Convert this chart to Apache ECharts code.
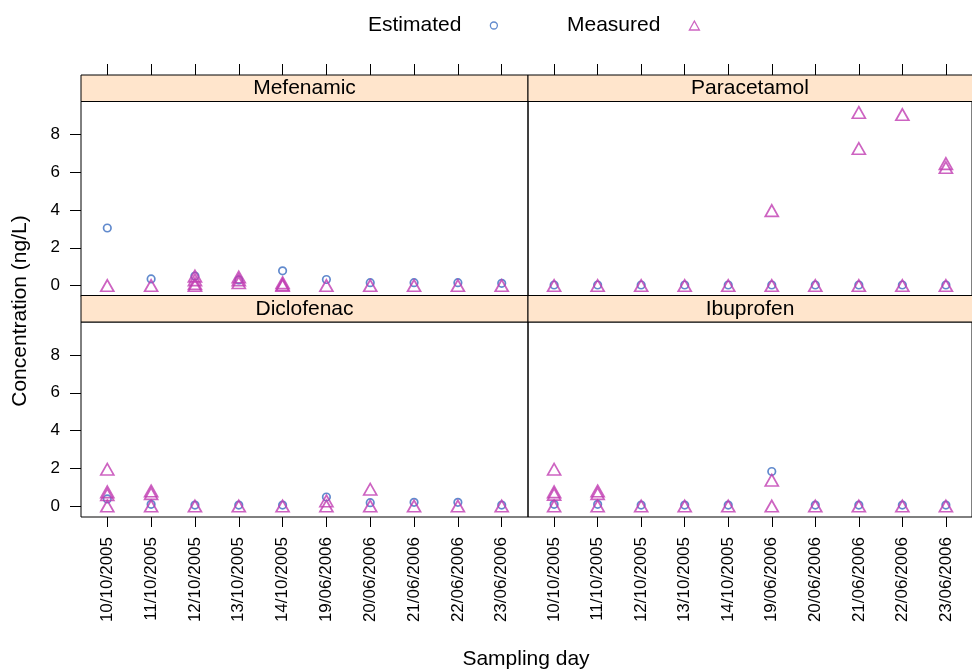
<!DOCTYPE html>
<html>
<head>
<meta charset="utf-8">
<script src="https://cdn.jsdelivr.net/npm/echarts@6.0.0/dist/echarts.min.js"></script>
<style>
  html, body { margin: 0; padding: 0; background: #fff; }
  #chart { width: 972px; height: 671px; }
</style>
</head>
<body>
<div id="chart"></div>
<script>
// sampling days (x categories)
const dates = ['10/10/2005', '11/10/2005', '12/10/2005', '13/10/2005', '14/10/2005',
  '19/06/2006', '20/06/2006', '21/06/2006', '22/06/2006', '23/06/2006'];
const yTicks = [0, 2, 4, 6, 8];
const drugs = ['Mefenamic', 'Paracetamol', 'Diclofenac', 'Ibuprofen'];

// replicate values per sampling day, ng/L
const mefenamicEst = [[3.05], [0.35], [0.5], [0.3], [0.78], [0.32], [0.15], [0.15], [0.15], [0.12]];
const mefenamicMeas = [[0], [0], [0.5, 0.3, 0.1, 0], [0.45, 0.3, 0.15], [0.15, 0.05, 0], [0], [0], [0], [0], [0]];
const paracetamolEst = [[0.03], [0.03], [0.03], [0.03], [0.03], [0.03], [0.03], [0.03], [0.03], [0.03]];
const paracetamolMeas = [[0], [0], [0], [0], [0], [3.97, 0], [0], [9.17, 7.26, 0], [9.06, 0], [6.46, 6.25, 0]];
const diclofenacEst = [[0.38], [0.09], [0.05], [0.05], [0.05], [0.48], [0.18], [0.2], [0.2], [0.05]];
const diclofenacMeas = [[1.95, 0.75, 0.6, 0], [0.8, 0.66, 0], [0], [0], [0], [0.27, 0], [0.89, 0], [0], [0], [0]];
const ibuprofenEst = [[0.09], [0.09], [0.05], [0.05], [0.05], [1.83], [0.05], [0.05], [0.05], [0.05]];
const ibuprofenMeas = [[1.95, 0.75, 0.62, 0], [0.8, 0.66, 0], [0], [0], [0], [1.37, 0], [0], [0], [0], [0]];

const estData = [mefenamicEst, paracetamolEst, diclofenacEst, ibuprofenEst];
const measData = [mefenamicMeas, paracetamolMeas, diclofenacMeas, ibuprofenMeas];

const FONT = '"Liberation Sans", Arial, Helvetica, sans-serif';
const EST_COL = '#3a6dc0';
const MEAS_COL = '#c13cb2';

const toPoints = (perDay) => perDay.flatMap((vals, i) => vals.map((v) => [i + 1, v]));

// panel boxes: left, top, width, height
const panels = [
  { left: 81, top: 101.5, width: 447, height: 195 },
  { left: 528, top: 101.5, width: 447, height: 195 },
  { left: 81, top: 322, width: 447, height: 195 },
  { left: 528, top: 322, width: 447, height: 195 },
];
const dayIdx = dates.map((d, i) => i + 1);

const grid = panels.map((p) => ({
  left: p.left, top: p.top, width: p.width, height: p.height,
  show: true, borderColor: '#000', borderWidth: 1, backgroundColor: 'transparent',
}));

const xAxis = panels.map((p, i) => {
  const top = i < 2;
  return {
    type: 'value', gridIndex: i, min: 0.4, max: 10.6,
    position: top ? 'top' : 'bottom',
    offset: top ? 26.5 : 0,
    splitLine: { show: false },
    axisLine: { show: false, onZero: false },
    axisTick: { show: true, inside: false, length: top ? 11 : 10, customValues: dayIdx,
      lineStyle: { color: '#000', width: 1 } },
    axisLabel: top ? { show: false } : {
      show: true, customValues: dayIdx, rotate: 90, margin: 20,
      color: '#000', fontSize: 17, fontFamily: FONT,
      formatter: (v) => dates[Math.round(v) - 1] || '',
    },
  };
});

const yAxis = panels.map((p, i) => {
  const leftCol = i % 2 === 0;
  return {
    type: 'value', gridIndex: i, min: -0.58, max: 9.75,
    position: 'left',
    splitLine: { show: false },
    axisLine: { show: false, onZero: false },
    axisTick: { show: leftCol, length: 11, customValues: yTicks,
      lineStyle: { color: '#000', width: 1 } },
    axisLabel: { show: leftCol, customValues: yTicks, margin: 21,
      color: '#000', fontSize: 17, fontFamily: FONT },
  };
});

const series = [];
drugs.forEach((d, i) => {
  series.push({
    name: 'Estimated', type: 'scatter', xAxisIndex: i, yAxisIndex: i,
    symbol: 'circle', symbolSize: 7.5,
    itemStyle: { color: 'rgba(0,0,0,0)', borderColor: EST_COL, borderWidth: 1.7 },
    data: toPoints(estData[i]), silent: true,
  });
  series.push({
    name: 'Measured', type: 'scatter', xAxisIndex: i, yAxisIndex: i,
    symbol: 'triangle', symbolSize: [13, 11.5],
    itemStyle: { color: 'rgba(0,0,0,0)', borderColor: MEAS_COL, borderWidth: 1.7 },
    data: toPoints(measData[i]), silent: true,
  });
});

// strips above each panel
const graphic = [];
panels.forEach((p, i) => {
  graphic.push({
    type: 'rect', z: 10,
    shape: { x: p.left, y: p.top - 26.5, width: p.width, height: 26.5 },
    style: { fill: '#ffe5cc', stroke: '#000', lineWidth: 1 },
  });
  graphic.push({
    type: 'text', z: 11, x: p.left + p.width / 2 - (i % 2 ? 1.5 : 0), y: p.top - 13,
    style: { text: drugs[i], font: '21px ' + FONT, fill: '#000',
      textAlign: 'center', textVerticalAlign: 'middle' },
  });
});
graphic.push({
  type: 'text', x: 20, y: 311, rotation: Math.PI / 2,
  style: { text: 'Concentration (ng/L)', font: '21px ' + FONT, fill: '#000',
    textAlign: 'center', textVerticalAlign: 'middle' },
});
graphic.push({
  type: 'text', x: 526, y: 659,
  style: { text: 'Sampling day', font: '21px ' + FONT, fill: '#000',
    textAlign: 'center', textVerticalAlign: 'middle' },
});

const legendBase = {
  top: 10, align: 'right', itemWidth: 10, itemHeight: 9, itemGap: 0,
  selectedMode: false,
  textStyle: { color: '#000', fontSize: 21, fontFamily: FONT, padding: [0, 24, 0, 0] },
};

const chart = echarts.init(document.getElementById('chart'), null, { renderer: 'canvas' });
chart.setOption({
  animation: false,
  backgroundColor: '#fff',
  legend: [
    Object.assign({}, legendBase, { left: 363, data: [{ name: 'Estimated', icon: 'circle',
      itemStyle: { color: 'rgba(0,0,0,0)', borderColor: EST_COL, borderWidth: 1.3 } }],
      itemWidth: 7, itemHeight: 7 }),
    Object.assign({}, legendBase, { left: 562, data: [{ name: 'Measured', icon: 'triangle',
      itemStyle: { color: 'rgba(0,0,0,0)', borderColor: MEAS_COL, borderWidth: 1.3 } }] }),
  ],
  grid, xAxis, yAxis, series, graphic,
});
</script>
</body>
</html>
